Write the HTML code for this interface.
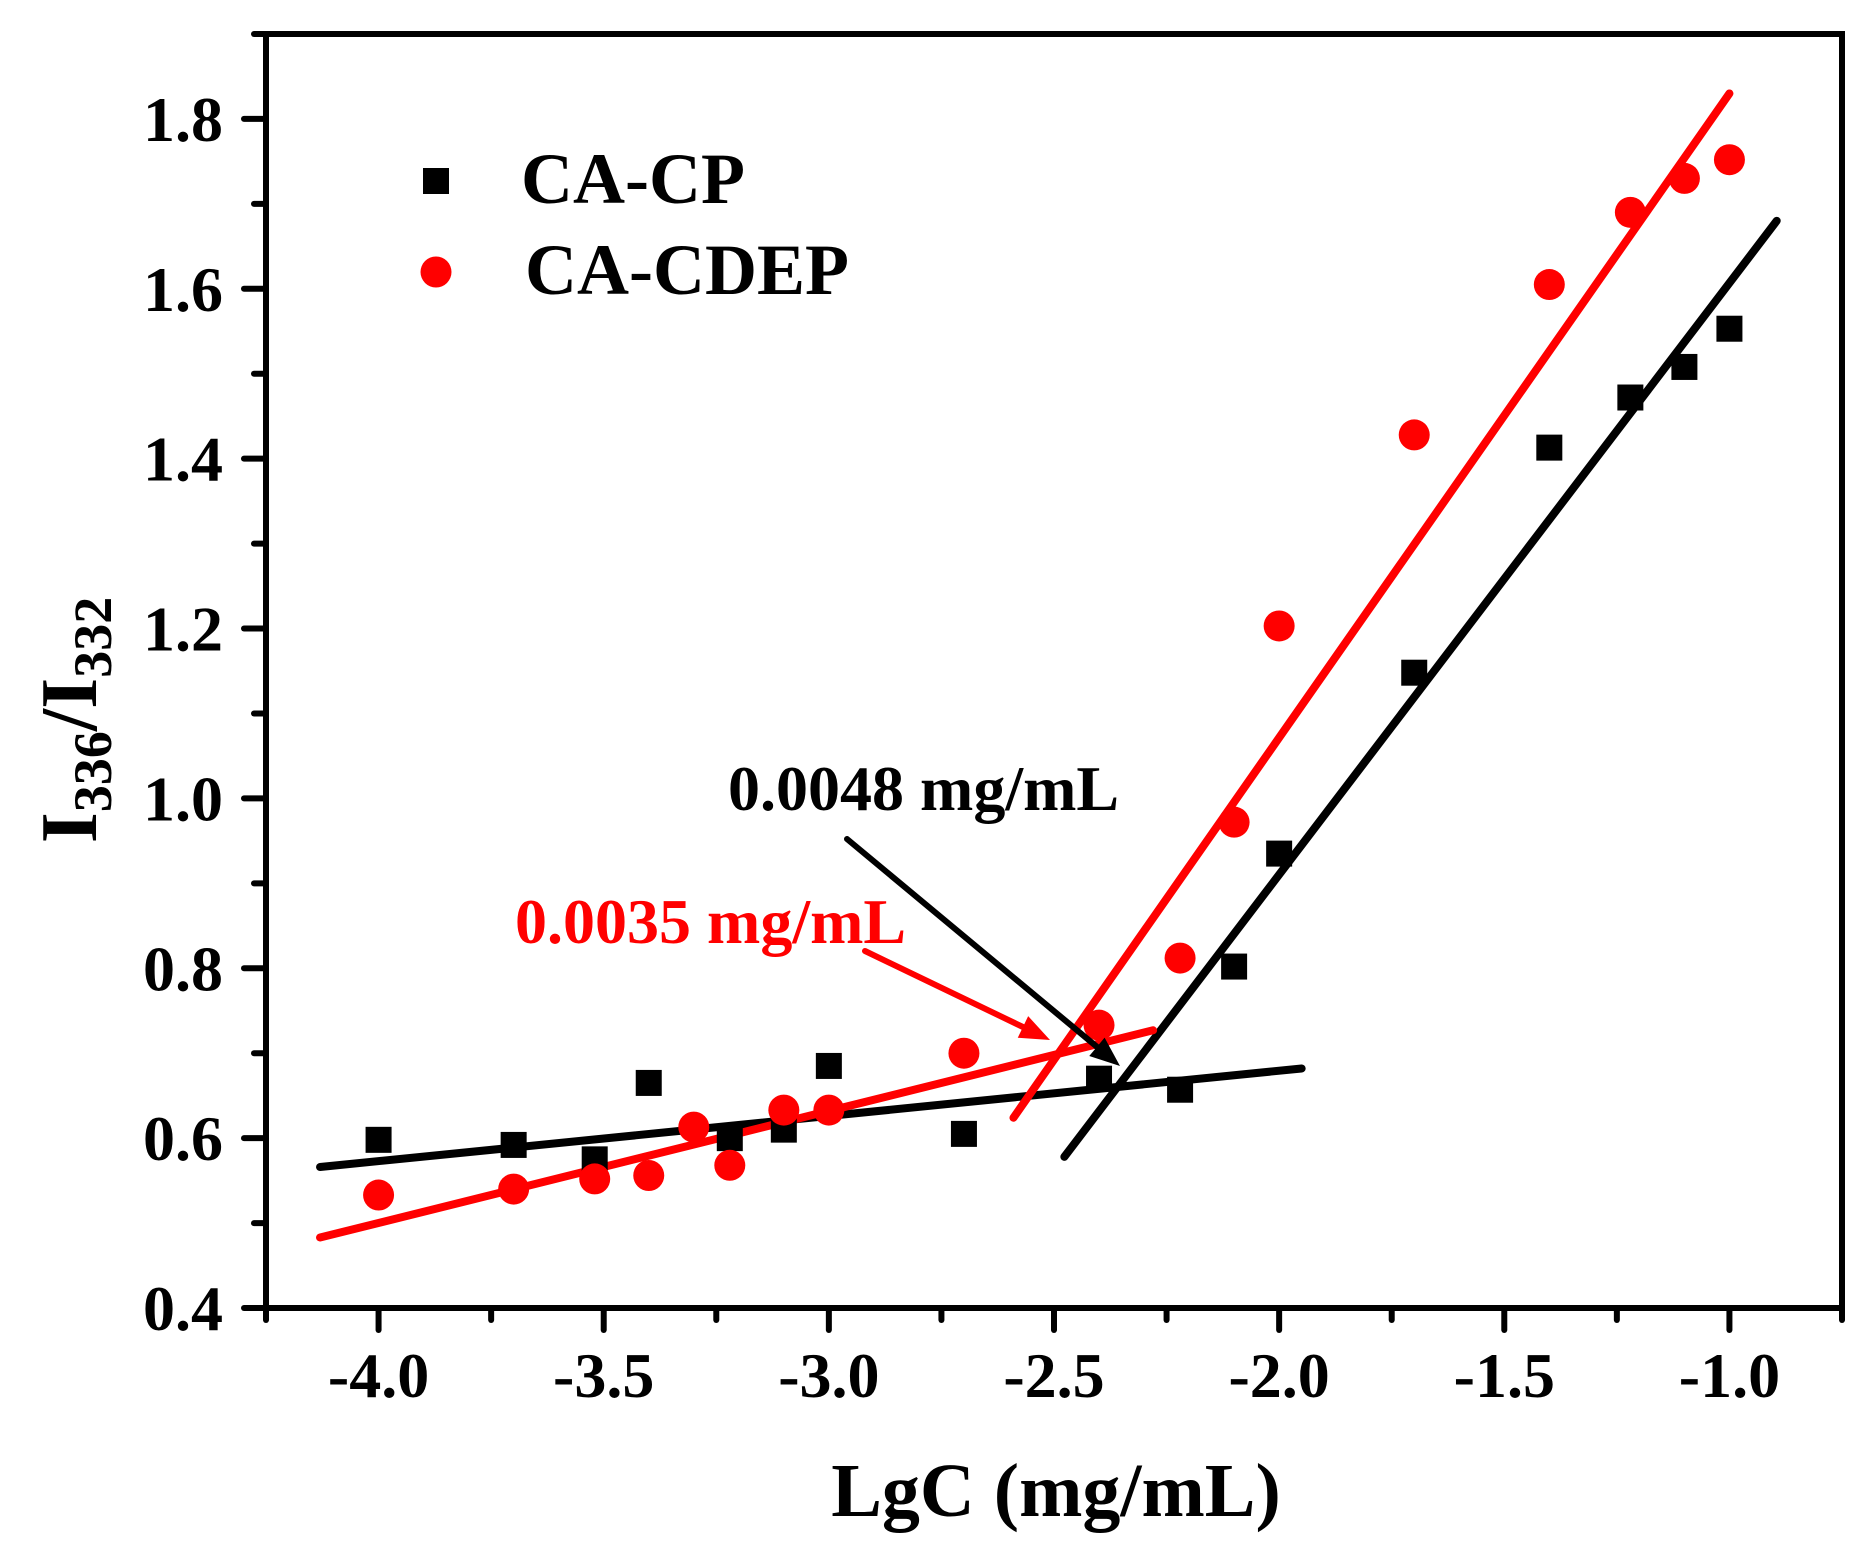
<!DOCTYPE html>
<html><head><meta charset="utf-8"><style>
html,body{margin:0;padding:0;background:#fff;}
svg{display:block;font-family:"Liberation Serif",serif;font-weight:bold;}
</style></head><body>
<svg id="chart" width="1875" height="1563" viewBox="0 0 1875 1563" xmlns="http://www.w3.org/2000/svg">
<g id="marks"></g>
</svg>
<script>
const xMajorTicks=[-4.0,-3.5,-3.0,-2.5,-2.0,-1.5,-1.0];
const xTickLabels=["-4.0","-3.5","-3.0","-2.5","-2.0","-1.5","-1.0"];
const yMajorTicks=[0.4,0.6,0.8,1.0,1.2,1.4,1.6,1.8];
const yTickLabels=["0.4","0.6","0.8","1.0","1.2","1.4","1.6","1.8"];
const cpX=[-4.0,-3.7,-3.52,-3.4,-3.22,-3.1,-3.0,-2.7,-2.4,-2.22,-2.1,-2.0,-1.7,-1.4,-1.22,-1.1,-1.0];
const cpY=[0.598,0.592,0.575,0.665,0.600,0.610,0.685,0.605,0.670,0.657,0.802,0.935,1.148,1.413,1.472,1.508,1.553];
const cdX=[-4.0,-3.7,-3.52,-3.4,-3.3,-3.22,-3.1,-3.0,-2.7,-2.4,-2.22,-2.1,-2.0,-1.7,-1.4,-1.22,-1.1,-1.0];
const cdY=[0.533,0.540,0.552,0.556,0.613,0.568,0.633,0.633,0.700,0.733,0.812,0.972,1.203,1.428,1.605,1.690,1.730,1.752];
const cpLowFit=[[-4.13,0.566],[-1.95,0.682]];
const cpHighFit=[[-2.477,0.578],[-0.895,1.68]];
const cdLowFit=[[-4.13,0.483],[-2.28,0.727]];
const cdHighFit=[[-2.59,0.624],[-1.0,1.83]];

const L=266,R=1842,T=34,B=1308;
const xMin=-4.25,xMax=-0.75,yMin=0.4,yMax=1.9;
const sx=v=>L+(v-xMin)/(xMax-xMin)*(R-L);
const sy=v=>B-(v-yMin)/(yMax-yMin)*(B-T);
const NS="http://www.w3.org/2000/svg";
const g=document.getElementById('marks');
function el(tag,attrs,parent){const e=document.createElementNS(NS,tag);for(const k in attrs)e.setAttribute(k,attrs[k]);(parent||g).appendChild(e);return e;}

let frame=el('rect',{x:L,y:T,width:R-L,height:B-T,fill:'none',stroke:'#000','stroke-width':6});



for(let v=-4.25;v<=-0.74;v+=0.25){
  const major=Math.abs((v*2)-Math.round(v*2))<1e-6;
  const t=el('line',{x1:sx(v),x2:sx(v),y1:B,y2:B+(major?22:12),stroke:'#000','stroke-width':6,'stroke-linecap':'round'});
  
  
}
xMajorTicks.forEach((v,i)=>{
  const t=el('text',{x:sx(v),y:1397,'font-size':64,'text-anchor':'middle',fill:'#000'});
  t.textContent=xTickLabels[i];
  
  
});
for(let v=0.4;v<=1.901;v+=0.1){
  const major=Math.abs(v*5-Math.round(v*5))<1e-6;
  const t=el('line',{x1:L,x2:L-(major?22:12),y1:sy(v),y2:sy(v),stroke:'#000','stroke-width':6,'stroke-linecap':'round'});
  
  
}
yMajorTicks.forEach((v,i)=>{
  const t=el('text',{x:223,y:sy(v)+22,'font-size':64,'text-anchor':'end',fill:'#000'});
  t.textContent=yTickLabels[i];
  
  
});

function fit(p,color,name){
  const l=el('line',{x1:sx(p[0][0]),y1:sy(p[0][1]),x2:sx(p[1][0]),y2:sy(p[1][1]),stroke:color,'stroke-width':8,'stroke-linecap':'round'});
  
  
}
fit(cpLowFit,'#000','cp-low-fit-line');
fit(cpHighFit,'#000','cp-high-fit-line');
fit(cdLowFit,'#f00','cdep-low-fit-line');
fit(cdHighFit,'#f00','cdep-high-fit-line');

cpX.forEach((x,i)=>{
  const r=el('rect',{x:sx(x)-13,y:sy(cpY[i])-13,width:26,height:26,fill:'#000'});
  
  
});
cdX.forEach((x,i)=>{
  const c=el('circle',{cx:sx(x),cy:sy(cdY[i]),r:15.5,fill:'#f00'});
  
  
});

function arrow(x1,y1,x2,y2,color,name){
  const a=el('g',{});
  
  
  const ang=Math.atan2(y2-y1,x2-x1),hl=30,hw=12;
  const bx=x2-hl*Math.cos(ang),by=y2-hl*Math.sin(ang);
  el('line',{x1:x1,y1:y1,x2:bx,y2:by,stroke:color,'stroke-width':6,'stroke-linecap':'round'},a);
  const px=-Math.sin(ang)*hw,py=Math.cos(ang)*hw;
  el('polygon',{points:`${x2},${y2} ${bx+px},${by+py} ${bx-px},${by-py}`,fill:color},a);
}
arrow(847,839,1120,1066,'#000','cp-cmc-arrow');
arrow(865,951,1050,1040,'#f00','cdep-cmc-arrow');

let a1=el('text',{x:728,y:810,'font-size':64,fill:'#000'});a1.textContent='0.0048 mg/mL';


let a2=el('text',{x:515,y:943,'font-size':64,fill:'#f00'});a2.textContent='0.0035 mg/mL';



let lg=el('g',{});


el('rect',{x:423,y:168,width:26,height:26,fill:'#000'},lg);
let lt1=el('text',{x:521,y:203,'font-size':72,fill:'#000'},lg);lt1.textContent='CA-CP';


el('circle',{cx:436,cy:272,r:15.5,fill:'#f00'},lg);
let lt2=el('text',{x:525,y:294,'font-size':72,fill:'#000'},lg);lt2.textContent='CA-CDEP';



let xt=el('text',{x:1056,y:1516,'font-size':76,'text-anchor':'middle',fill:'#000'});xt.textContent='LgC (mg/mL)';


let yt=el('text',{x:0,y:0,'font-size':80,'text-anchor':'middle',fill:'#000',transform:'translate(96,720) rotate(-90)'});
yt.innerHTML='I<tspan font-size="54" dy="15">336</tspan><tspan dy="-15">/I</tspan><tspan font-size="54" dy="15">332</tspan>';


</script>
</body></html>
